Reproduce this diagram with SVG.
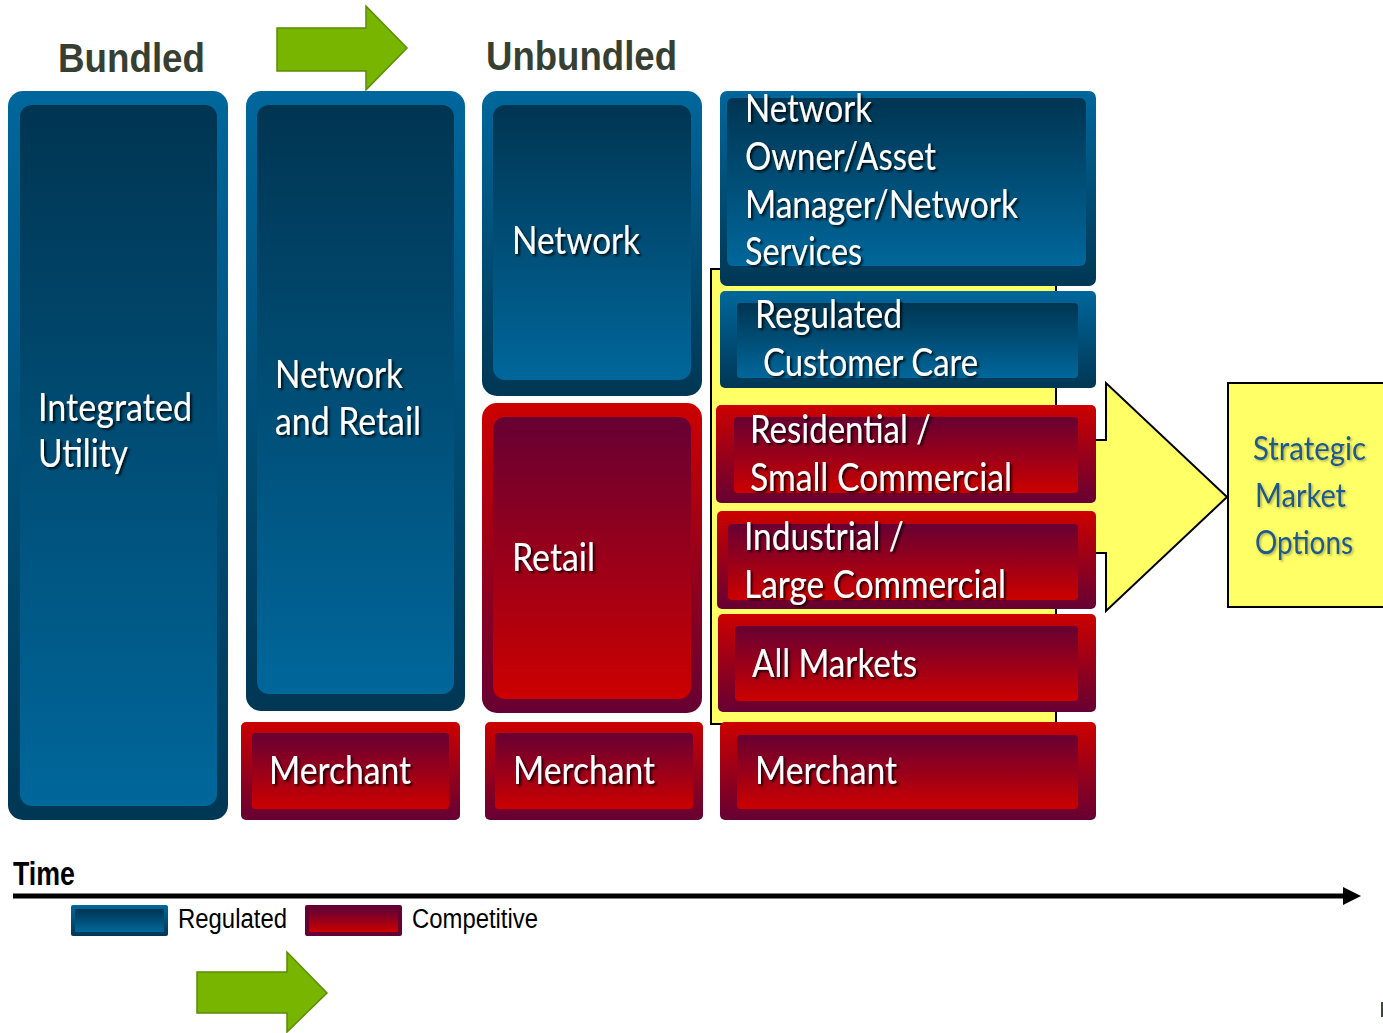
<svg xmlns="http://www.w3.org/2000/svg" width="1383" height="1033" viewBox="0 0 1383 1033">
<defs>
<linearGradient id="blueOut" x1="0" y1="0" x2="0" y2="1"><stop offset="0" stop-color="#00679C"/><stop offset="1" stop-color="#003754"/></linearGradient>
<linearGradient id="blueIn" x1="0" y1="0" x2="0" y2="1"><stop offset="0" stop-color="#003552"/><stop offset="1" stop-color="#00679B"/></linearGradient>
<linearGradient id="redOut" x1="0" y1="0" x2="0" y2="1"><stop offset="0" stop-color="#CC0000"/><stop offset="1" stop-color="#660033"/></linearGradient>
<linearGradient id="redIn" x1="0" y1="0" x2="0" y2="1"><stop offset="0" stop-color="#660033"/><stop offset="1" stop-color="#CC0000"/></linearGradient>
<filter id="sh" x="-10%" y="-30%" width="130%" height="170%">
<feDropShadow dx="2" dy="2" stdDeviation="1.2" flood-color="#000" flood-opacity="0.8"/>
</filter>
<filter id="sh2" x="-10%" y="-30%" width="130%" height="170%">
<feDropShadow dx="1.5" dy="1.5" stdDeviation="1.2" flood-color="#7a7a40" flood-opacity="0.6"/>
</filter>
</defs>
<style>
.bo{fill:url(#blueOut)}
.bi{fill:url(#blueIn)}
.ro{fill:url(#redOut)}
.ri{fill:url(#redIn)}
.wt{font-family:Lato,"Open Sans",sans-serif;font-size:39px;fill:#fff;filter:url(#sh)}
.hd{font-family:"Liberation Sans",Arial,sans-serif;font-weight:bold;font-size:40px;fill:#373F33}
.sm{font-family:Lato,"Open Sans",sans-serif;font-size:32px;fill:#1A5A8C;filter:url(#sh2)}
.lg{font-family:"Liberation Sans",Arial,sans-serif;font-size:27px;fill:#000}
.gr{fill:#77B500;stroke:#5C8C00;stroke-width:1.5}
.yl{fill:#FFFF66;stroke:#000;stroke-width:2}
</style>
<rect width="1383" height="1033" fill="#fff"/>

<g id="arrow-top"><polygon class="gr" points="277,28 366,28 366,6 407,48 366,90 366,71 277,71"/></g>
<g id="label-bundled"><text class="hd" x="58" y="72" textLength="147" lengthAdjust="spacingAndGlyphs">Bundled</text></g>
<g id="label-unbundled"><text class="hd" x="486" y="70" textLength="191" lengthAdjust="spacingAndGlyphs">Unbundled</text></g>

<g id="node-integrated-utility">
<rect class="bo" x="8" y="91" width="220" height="729" rx="15"/>
<rect class="bi" x="20" y="105" width="197" height="701" rx="12"/>
<text class="wt" x="38" y="421" textLength="154" lengthAdjust="spacingAndGlyphs">Integrated</text>
<text class="wt" x="38" y="467" textLength="90" lengthAdjust="spacingAndGlyphs">Utility</text>
</g>

<g id="node-network-retail">
<rect class="bo" x="246" y="91" width="219" height="620" rx="15"/>
<rect class="bi" x="257" y="105" width="197" height="589" rx="12"/>
<text class="wt" x="275" y="388" textLength="128" lengthAdjust="spacingAndGlyphs">Network</text>
<text class="wt" x="275" y="435" textLength="146" lengthAdjust="spacingAndGlyphs">and Retail</text>
</g>

<g id="node-network">
<rect class="bo" x="482" y="91" width="220" height="305" rx="15"/>
<rect class="bi" x="493" y="105" width="198" height="275" rx="12"/>
<text class="wt" x="512" y="254" textLength="128" lengthAdjust="spacingAndGlyphs">Network</text>
</g>

<g id="node-retail">
<rect class="ro" x="482" y="403" width="220" height="310" rx="15"/>
<rect class="ri" x="493" y="417" width="198" height="282" rx="12"/>
<text class="wt" x="512" y="571" textLength="83" lengthAdjust="spacingAndGlyphs">Retail</text>
</g>

<g id="node-merchant-1">
<rect class="ro" x="241" y="722" width="219" height="98" rx="5"/>
<rect class="ri" x="252" y="733" width="197" height="76" rx="4"/>
<text class="wt" x="269" y="784" textLength="142" lengthAdjust="spacingAndGlyphs">Merchant</text>
</g>

<g id="node-merchant-2">
<rect class="ro" x="485" y="722" width="218" height="98" rx="5"/>
<rect class="ri" x="495" y="733" width="198" height="76" rx="4"/>
<text class="wt" x="513" y="784" textLength="142" lengthAdjust="spacingAndGlyphs">Merchant</text>
</g>

<g id="node-yellow-region"><rect class="yl" x="711" y="269" width="345" height="455"/></g>

<g id="connectors">
<polygon points="1040,440 1106,440 1106,383 1227,497 1106,611 1106,553 1040,553" fill="#FFFF66"/>
<polyline points="1040,440 1106,440 1106,383 1227,497 1106,611 1106,553 1040,553" fill="none" stroke="#000" stroke-width="2" stroke-linejoin="miter"/>
<line x1="13" y1="896" x2="1346" y2="896" stroke="#000" stroke-width="5"/>
<polygon points="1343,887 1361,896 1343,905" fill="#000"/>
</g>

<g id="node-network-owner">
<rect class="bo" x="720" y="91" width="376" height="195" rx="7"/>
<rect class="bi" x="727" y="98" width="359" height="168" rx="6"/>
<text class="wt" x="745" y="122" textLength="127" lengthAdjust="spacingAndGlyphs">Network</text>
<text class="wt" x="745" y="170" textLength="191" lengthAdjust="spacingAndGlyphs">Owner/Asset</text>
<text class="wt" x="745" y="218" textLength="273" lengthAdjust="spacingAndGlyphs">Manager/Network</text>
<text class="wt" x="745" y="265" textLength="117" lengthAdjust="spacingAndGlyphs">Services</text>
</g>

<g id="node-regulated-customer-care">
<rect class="bo" x="720" y="291" width="376" height="97" rx="5"/>
<rect class="bi" x="737" y="303" width="341" height="75" rx="4"/>
<text class="wt" x="755" y="328" textLength="147" lengthAdjust="spacingAndGlyphs">Regulated</text>
<text class="wt" x="763" y="376" textLength="215" lengthAdjust="spacingAndGlyphs">Customer Care</text>
</g>

<g id="node-residential">
<rect class="ro" x="716" y="405" width="380" height="98" rx="5"/>
<rect class="ri" x="734" y="417" width="344" height="76" rx="4"/>
<text class="wt" x="750" y="443" textLength="181" lengthAdjust="spacingAndGlyphs">Residential /</text>
<text class="wt" x="750" y="491" textLength="262" lengthAdjust="spacingAndGlyphs">Small Commercial</text>
</g>

<g id="node-industrial">
<rect class="ro" x="717" y="511" width="379" height="98" rx="5"/>
<rect class="ri" x="728" y="524" width="350" height="76" rx="4"/>
<text class="wt" x="744" y="550" textLength="160" lengthAdjust="spacingAndGlyphs">Industrial /</text>
<text class="wt" x="744" y="598" textLength="262" lengthAdjust="spacingAndGlyphs">Large Commercial</text>
</g>

<g id="node-all-markets">
<rect class="ro" x="718" y="614" width="378" height="98" rx="5"/>
<rect class="ri" x="735" y="626" width="343" height="75" rx="4"/>
<text class="wt" x="752" y="677" textLength="165" lengthAdjust="spacingAndGlyphs">All Markets</text>
</g>

<g id="node-merchant-3">
<rect class="ro" x="720" y="722" width="376" height="98" rx="5"/>
<rect class="ri" x="737" y="735" width="341" height="74" rx="4"/>
<text class="wt" x="755" y="784" textLength="142" lengthAdjust="spacingAndGlyphs">Merchant</text>
</g>

<g id="node-strategic">
<rect class="yl" x="1228" y="383" width="170" height="224"/>
<text class="sm" x="1253" y="460" textLength="113" lengthAdjust="spacingAndGlyphs">Strategic</text>
<text class="sm" x="1255" y="507" textLength="91" lengthAdjust="spacingAndGlyphs">Market</text>
<text class="sm" x="1255" y="554" textLength="98" lengthAdjust="spacingAndGlyphs">Options</text>
</g>

<g id="time-label"><text class="lg" x="13" y="885" style="font-weight:bold;font-size:34px" textLength="62" lengthAdjust="spacingAndGlyphs">Time</text></g>

<g id="legend">
<rect class="bo" x="71" y="905" width="97" height="31" rx="2"/>
<rect class="bi" x="75" y="909" width="89" height="23" rx="1"/>
<text class="lg" x="178" y="928" textLength="109" lengthAdjust="spacingAndGlyphs">Regulated</text>
<rect class="ro" x="305" y="905" width="97" height="31" rx="2" style="fill:#660033"/>
<rect class="ri" x="309" y="909" width="89" height="23" rx="1"/>
<text class="lg" x="412" y="928" textLength="126" lengthAdjust="spacingAndGlyphs">Competitive</text>
</g>

<g id="arrow-bottom"><polygon class="gr" points="197,972 287,972 287,952 327,993 287,1032 287,1013 197,1013"/></g>
<line x1="1382" y1="1002" x2="1382" y2="1017" stroke="#3a4a3a" stroke-width="2"/>
</svg>
